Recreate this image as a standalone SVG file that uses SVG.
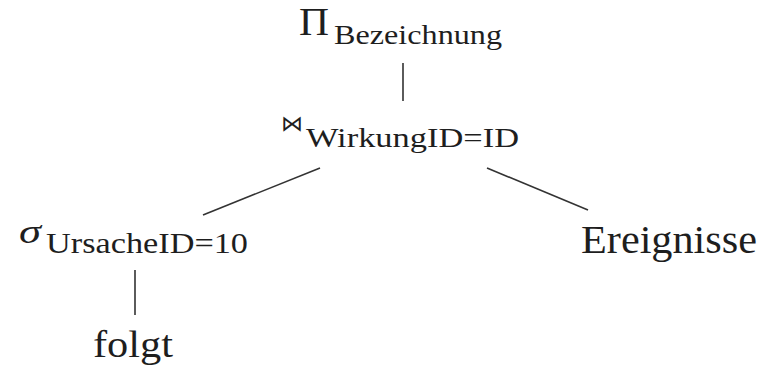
<svg xmlns="http://www.w3.org/2000/svg" width="766" height="371" viewBox="0 0 766 371">
<style>
.t{fill:#1e1e1e;font-family:'Liberation Serif','Times New Roman',serif}
.s{fill:#1e1e1e;font-family:'DejaVu Serif',serif}
.e{stroke:#333;stroke-width:1.6;fill:none}
</style>
<rect width="766" height="371" fill="#fff"/>
<g id="edges">
<line class="e" x1="403" y1="63" x2="403" y2="101"/>
<line class="e" x1="320" y1="168" x2="203" y2="215"/>
<line class="e" x1="487" y1="168" x2="588" y2="210"/>
<line class="e" x1="135" y1="270" x2="135" y2="315"/>
</g>
<g id="projection">
<text class="t" x="299" y="35" font-size="40" textLength="30" lengthAdjust="spacingAndGlyphs">Π</text>
<text class="t" x="334" y="44" font-size="27" textLength="168" lengthAdjust="spacingAndGlyphs">Bezeichnung</text>
</g>
<g id="join">
<text class="s" x="281" y="131" font-size="22" textLength="22" lengthAdjust="spacingAndGlyphs">⋈</text>
<text class="t" x="306" y="147" font-size="28" textLength="213" lengthAdjust="spacingAndGlyphs">WirkungID=ID</text>
</g>
<g id="selection">
<text class="t" x="19" y="243" font-size="34" font-style="italic" textLength="22" lengthAdjust="spacingAndGlyphs">σ</text>
<text class="t" x="46" y="253" font-size="29" textLength="202" lengthAdjust="spacingAndGlyphs">UrsacheID=10</text>
</g>
<g id="ereignisse">
<text class="t" x="581" y="253" font-size="40" textLength="176" lengthAdjust="spacingAndGlyphs">Ereignisse</text>
</g>
<g id="folgt">
<text class="t" x="93" y="357" font-size="38" textLength="80" lengthAdjust="spacingAndGlyphs">folgt</text>
</g>
</svg>
